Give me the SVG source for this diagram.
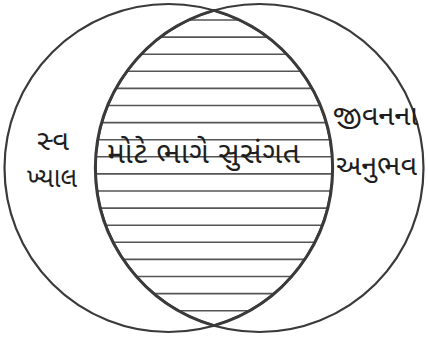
<svg xmlns="http://www.w3.org/2000/svg" width="428" height="345" viewBox="0 0 428 345">
<style>
.c{fill:none;stroke:#3a3a3a;stroke-width:2.2}
.lens{fill:none;stroke:#3a3a3a;stroke-width:3}
.h{stroke:#555;stroke-width:1.6}
.t{font-family:"Noto Sans Gujarati","Noto Sans",sans-serif;fill:#1e1e1e;text-anchor:middle}
</style>
<defs>
<clipPath id="lensClip"><path d="M214,10.4 A164,164 0 0 1 214,325.6 A164,164 0 0 1 214,10.4 Z"/></clipPath>
</defs>
<rect width="428" height="345" fill="#fff"/>
<g id="hatch" clip-path="url(#lensClip)">
<path class="h" d="M90,20H340M90,37.1H340M90,54.2H340M90,71.3H340M90,88.4H340M90,105.5H340M90,122.6H340M90,139.7H340M90,156.8H340M90,173.9H340M90,191H340M90,208.1H340M90,225.2H340M90,242.3H340M90,259.4H340M90,276.5H340M90,293.6H340M90,310.7H340"/>
</g>
<g id="left-circle"><circle class="c" cx="168.5" cy="168" r="164"/></g>
<g id="right-circle"><circle class="c" cx="259.5" cy="168" r="164"/></g>
<g id="lens-outline"><path class="lens" d="M214,10.4 A164,164 0 0 1 214,325.6 A164,164 0 0 1 214,10.4 Z"/></g>
<g id="label-left">
<text class="t" x="53" y="150" font-size="28" textLength="32" lengthAdjust="spacingAndGlyphs">સ્વ</text>
<text class="t" x="52" y="187" font-size="28" textLength="50" lengthAdjust="spacingAndGlyphs">ખ્યાલ</text>
</g>
<g id="label-center"><text class="t" x="203.5" y="163" font-size="30" textLength="193" lengthAdjust="spacing">મોટે ભાગે સુસંગત</text></g>
<g id="label-right">
<text class="t" x="375.5" y="125" font-size="28" textLength="85" lengthAdjust="spacingAndGlyphs">જીવનના</text>
<text class="t" x="376.5" y="175" font-size="28" textLength="81" lengthAdjust="spacingAndGlyphs">અનુભવ</text>
</g>
</svg>
